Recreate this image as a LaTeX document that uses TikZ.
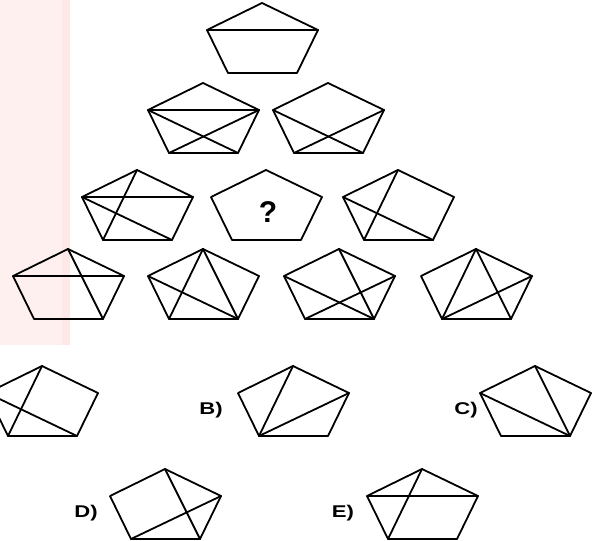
\documentclass[tikz,border=0pt]{standalone}
\usepackage{fontspec}
\setsansfont{Liberation Sans}
\usepackage{xcolor}
\usetikzlibrary{positioning,calc}

% pentagon with apex at (#2,#3); corners named #1-t, #1-l, #1-r, #1-bl, #1-br
\newcommand{\pentagon}[3]{%
  \coordinate (#1-t)  at (#2,#3);
  \coordinate (#1-l)  at ($(#1-t)+(-55,27)$);
  \coordinate (#1-r)  at ($(#1-t)+(56,27)$);
  \coordinate (#1-bl) at ($(#1-t)+(-34,70)$);
  \coordinate (#1-br) at ($(#1-t)+(35,70)$);
  \draw[edge] (#1-t) -- (#1-r) -- (#1-br) -- (#1-bl) -- (#1-l) -- cycle;
}
\newcommand{\widetext}[1]{\scalebox{1.3}[1]{#1}}

\begin{document}
\begin{tikzpicture}[
  x=1pt, y=-1pt,
  edge/.style={line width=1.8pt, line join=round, black},
  diag/.style={line width=1.8pt, line cap=round, black},
  optlabel/.style={font=\sffamily\bfseries\fontsize{17}{17}\selectfont, inner sep=0pt},
  qmark/.style={font=\sffamily\bfseries\fontsize{30}{30}\selectfont, inner sep=0pt},
]
\useasboundingbox (0,0) rectangle (593,540);
\clip (0,0) rectangle (593,540);
\fill[red!6] (0,0) rectangle (70,345);
\fill[red!9] (62,0) rectangle (70,345);

\pentagon{top}{262}{3}
\pentagon{a1}{203}{83}
\pentagon{a2}{328}{83}
\pentagon{b1}{137}{170}
\pentagon{b2}{266}{170}
\pentagon{b3}{398}{170}
\pentagon{c1}{68}{249}
\pentagon{c2}{203}{249}
\pentagon{c3}{339}{249}
\pentagon{c4}{476}{249}
\pentagon{optA}{42}{366}
\pentagon{optB}{293}{366}
\pentagon{optC}{535}{366}
\pentagon{optD}{165}{469}
\pentagon{optE}{422}{469}

\draw[diag] (top-l) -- (top-r);

\draw[diag] (a1-l) -- (a1-r);
\draw[diag] (a1-l) -- (a1-br);
\draw[diag] (a1-r) -- (a1-bl);
\draw[diag] (a2-l) -- (a2-br);
\draw[diag] (a2-r) -- (a2-bl);

\draw[diag] (b1-l) -- (b1-r);
\draw[diag] (b1-t) -- (b1-bl);
\draw[diag] (b1-l) -- (b1-br);
\node[qmark] (quest) at (268,212) {?};
\draw[diag] (b3-t) -- (b3-bl);
\draw[diag] (b3-l) -- (b3-br);

\draw[diag] (c1-l) -- (c1-r);
\draw[diag] (c1-t) -- (c1-br);
\draw[diag] (c2-t) -- (c2-bl);
\draw[diag] (c2-t) -- (c2-br);
\draw[diag] (c2-l) -- (c2-br);
\draw[diag] (c3-l) -- (c3-br);
\draw[diag] (c3-r) -- (c3-bl);
\draw[diag] (c3-t) -- (c3-br);
\draw[diag] (c4-t) -- (c4-bl);
\draw[diag] (c4-t) -- (c4-br);
\draw[diag] (c4-r) -- (c4-bl);

\draw[diag] (optA-t) -- (optA-bl);
\draw[diag] (optA-l) -- (optA-br);
\draw[diag] (optB-t) -- (optB-bl);
\draw[diag] (optB-r) -- (optB-bl);
\draw[diag] (optC-t) -- (optC-br);
\draw[diag] (optC-l) -- (optC-br);
\draw[diag] (optD-t) -- (optD-br);
\draw[diag] (optD-r) -- (optD-bl);
\draw[diag] (optE-l) -- (optE-r);
\draw[diag] (optE-t) -- (optE-bl);

\node[optlabel] (labB) at (211,410) {\widetext{B)}};
\node[optlabel] (labC) at (466,410) {\widetext{C)}};
\node[optlabel] (labD) at (86,513) {\widetext{D)}};
\node[optlabel] (labE) at (343,513) {\widetext{E)}};
\end{tikzpicture}
\end{document}
